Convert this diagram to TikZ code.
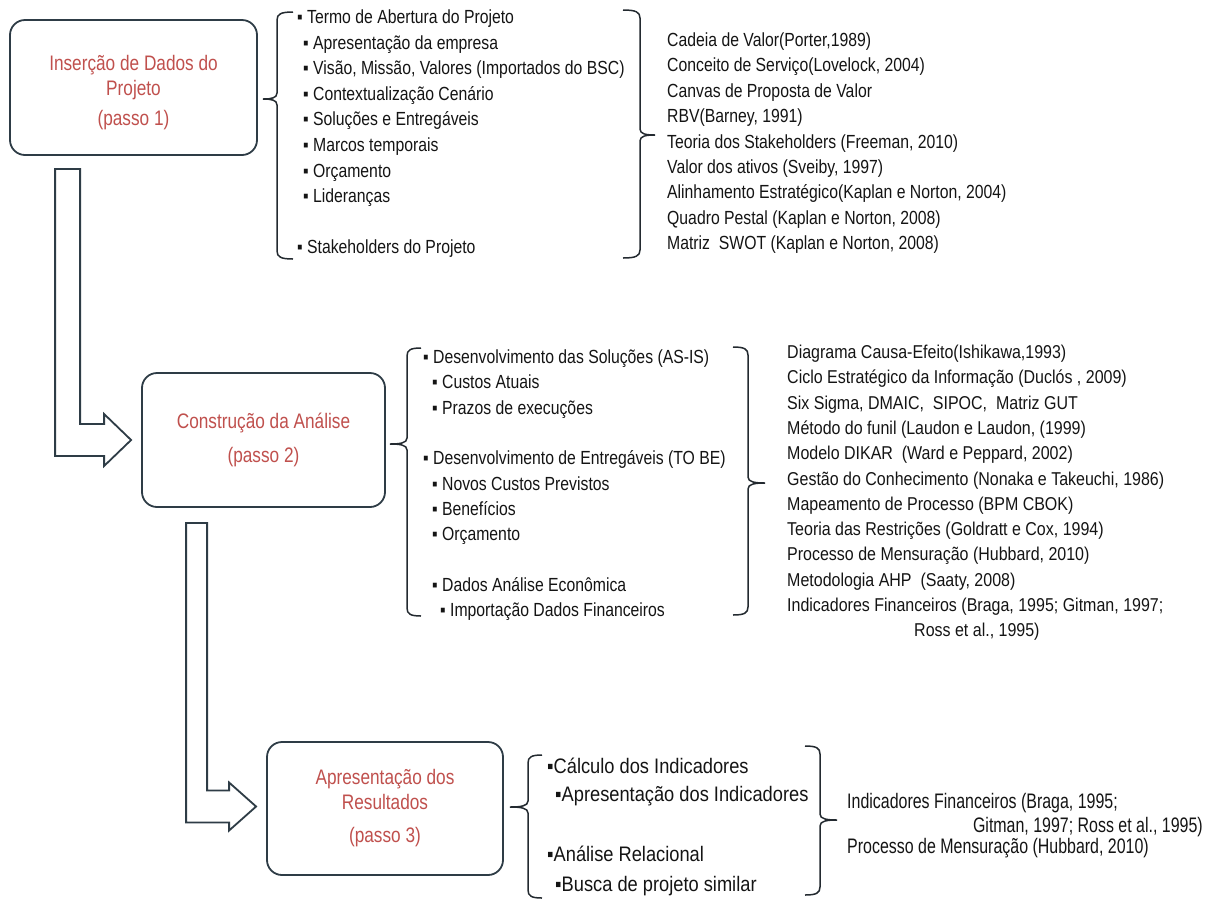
\documentclass[tikz,border=0pt]{standalone}
\usepackage{fontspec}
\setmainfont{Liberation Sans}
% condensed cuts of Liberation Sans for the different text blocks
\newfontfamily\ftitle[FakeStretch=0.82]{Liberation Sans}
\newfontfamily\fa[FakeStretch=0.83]{Liberation Sans}
\newfontfamily\fb[FakeStretch=0.86]{Liberation Sans}
\newfontfamily\fc[FakeStretch=0.87]{Liberation Sans}
\newfontfamily\fd[FakeStretch=0.76]{Liberation Sans}
\usetikzlibrary{calc}

\definecolor{boxline}{RGB}{46,60,70}
\definecolor{inkline}{RGB}{35,42,48}
\definecolor{titlered}{RGB}{192,80,77}
\definecolor{ink}{RGB}{20,20,20}

\tikzset{
  stepbox/.style={draw=boxline, line width=1.8pt, rounded corners=15pt, fill=white,
    text=titlered, align=center, inner sep=0pt,
    font=\ftitle\fontsize{21}{25}\selectfont},
  steptext/.style={text=titlered, align=center, inner sep=0pt,
    font=\ftitle\fontsize{21}{25}\selectfont},
  item/.style={anchor=west, inner sep=0pt, text=ink, text height=0.7em, text depth=0pt, yshift=-3pt},
  lista/.style={item, font=\fa\fontsize{19}{23}\selectfont},
  listb/.style={item, font=\fb\fontsize{18.6}{23}\selectfont},
  listc/.style={item, font=\fc\fontsize{21}{25}\selectfont},
  listd/.style={item, font=\fd\fontsize{21}{25}\selectfont},
  bracestyle/.style={draw=inkline, line width=1.5pt},
  blockarrow/.style={draw=boxline, line width=1.8pt, fill=white, line join=miter},
}

% curly brace: #1 spine x, #2 top y, #3 bottom y, #4 tip y, #5 hook end x, #6 tip x
\newcommand\brc[6]{%
  \draw[bracestyle] (#5,#2) .. controls ({#1+0.25*(#5-#1)},#2) and (#1,{#2+2}) .. (#1,{#2+8})
    -- (#1,{#4-6}) .. controls (#1,{#4-1}) and ({#1+0.4*(#6-#1)},#4) .. (#6,#4)
    .. controls ({#1+0.4*(#6-#1)},#4) and (#1,{#4+1}) .. (#1,{#4+6})
    -- (#1,{#3-8}) .. controls (#1,{#3-2}) and ({#1+0.25*(#5-#1)},#3) .. (#5,#3);}

\begin{document}
\begin{tikzpicture}[x=1pt, y=-1pt]
\path[use as bounding box] (0,0) rectangle (1213,903);

% step boxes
\node[stepbox, minimum width=247pt, minimum height=135pt] (b1) at (133.5,87.5) {};
\node[steptext] (t1) at ($(b1.center)+(0,5)$)
  {Inserção de Dados do\\Projeto\\[5pt](passo 1)};
\node[stepbox, minimum width=243pt, minimum height=134pt] (b2) at (263.5,440)
  {Construção da Análise\\[9pt](passo 2)};
\node[stepbox, minimum width=236pt, minimum height=133pt] (b3) at (385,808.5)
  {Apresentação dos\\Resultados\\[8pt](passo 3)};

% block arrows between the steps
\coordinate (a1s) at ($(b1.south west)+(46,13)$);
\coordinate (a1t) at ($(b2.west)+(-10,0)$);
\draw[blockarrow] (a1s) -- ++(25,0) |- ($(a1t)+(-27,-16)$) -- ++(0,-10) -- (a1t)
  -- ++(-27,26) -- ++(0,-10) -| (a1s) -- cycle;
\coordinate (a2s) at ($(b2.south west)+(45,15)$);
\coordinate (a2t) at ($(b3.west)+(-10,-2)$);
\draw[blockarrow] (a2s) -- ++(21,0) |- ($(a2t)+(-27,-16)$) -- ++(0,-8) -- (a2t)
  -- ++(-27,24) -- ++(0,-8) -| (a2s) -- cycle;

% braces
\brc{277}{12}{259}{99}{293}{263}
\brc{640}{10}{258}{135}{623}{655}
\brc{407}{348}{616}{444}{421}{390}
\brc{748}{347}{615}{483}{733}{765}
\brc{528}{755}{898}{807}{542}{510}
\brc{820}{746}{895}{820}{805}{837}

% step 1 contents
\foreach \y/\x/\t [count=\k] in {
  17/297/{▪ Termo de Abertura do Projeto},
  42.6/303/{▪ Apresentação da empresa},
  68.2/303/{▪ Visão, Missão, Valores (Importados do BSC)},
  93.8/303/{▪ Contextualização Cenário},
  119.4/303/{▪ Soluções e Entregáveis},
  145/303/{▪ Marcos temporais},
  170.6/303/{▪ Orçamento},
  196.2/303/{▪ Lideranças},
  247.4/297/{▪ Stakeholders do Projeto}}
  \node[lista] (pa\k) at (\x,\y) {\t};

\foreach \t [count=\k from 0] in {
  {Cadeia de Valor(Porter,1989)},
  {Conceito de Serviço(Lovelock, 2004)},
  {Canvas de Proposta de Valor},
  {RBV(Barney, 1991)},
  {Teoria dos Stakeholders (Freeman, 2010)},
  {Valor dos ativos (Sveiby, 1997)},
  {Alinhamento Estratégico(Kaplan e Norton, 2004)},
  {Quadro Pestal (Kaplan e Norton, 2008)},
  {Matriz\ \ SWOT (Kaplan e Norton, 2008)}}
  \node[lista] (ra\k) at (667,{40+25.4*\k}) {\t};

% step 2 contents
\foreach \y/\x/\t [count=\k] in {
  357/423/{▪ Desenvolvimento das Soluções (AS-IS)},
  382.3/432/{▪ Custos Atuais},
  407.6/432/{▪ Prazos de execuções},
  458.2/423/{▪ Desenvolvimento de Entregáveis (TO BE)},
  483.5/432/{▪ Novos Custos Previstos},
  508.8/432/{▪ Benefícios},
  534.1/432/{▪ Orçamento},
  584.7/432/{▪ Dados Análise Econômica},
  610/440/{▪ Importação Dados Financeiros}}
  \node[lista] (pb\k) at (\x,\y) {\t};

\foreach \t [count=\k from 0] in {
  {Diagrama Causa-Efeito(Ishikawa,1993)},
  {Ciclo Estratégico da Informação (Duclós , 2009)},
  {Six Sigma, DMAIC,\ \ SIPOC,\ \ Matriz GUT},
  {Método do funil (Laudon e Laudon, (1999)},
  {Modelo DIKAR\ \ (Ward e Peppard, 2002)},
  {Gestão do Conhecimento (Nonaka e Takeuchi, 1986)},
  {Mapeamento de Processo (BPM CBOK)},
  {Teoria das Restrições (Goldratt e Cox, 1994)},
  {Processo de Mensuração (Hubbard, 2010)},
  {Metodologia AHP\ \ (Saaty, 2008)},
  {Indicadores Financeiros (Braga, 1995; Gitman, 1997;}}
  \node[listb] (rb\k) at (787,{352+25.3*\k}) {\t};
\node[listb] (rb11) at (914,630) {Ross et al., 1995)};

% step 3 contents
\foreach \y/\x/\t [count=\k] in {
  767/547/{▪Cálculo dos Indicadores},
  795/555/{▪Apresentação dos Indicadores},
  855/547/{▪Análise Relacional},
  885/555/{▪Busca de projeto similar}}
  \node[listc] (pc\k) at (\x,\y) {\t};

\node[listd] (rc1) at (847,802) {Indicadores Financeiros (Braga, 1995;};
\node[listd, anchor=east] (rc2) at (1203,826) {Gitman, 1997; Ross et al., 1995)};
\node[listd] (rc3) at (847,847) {Processo de Mensuração (Hubbard, 2010)};
\end{tikzpicture}
\end{document}
